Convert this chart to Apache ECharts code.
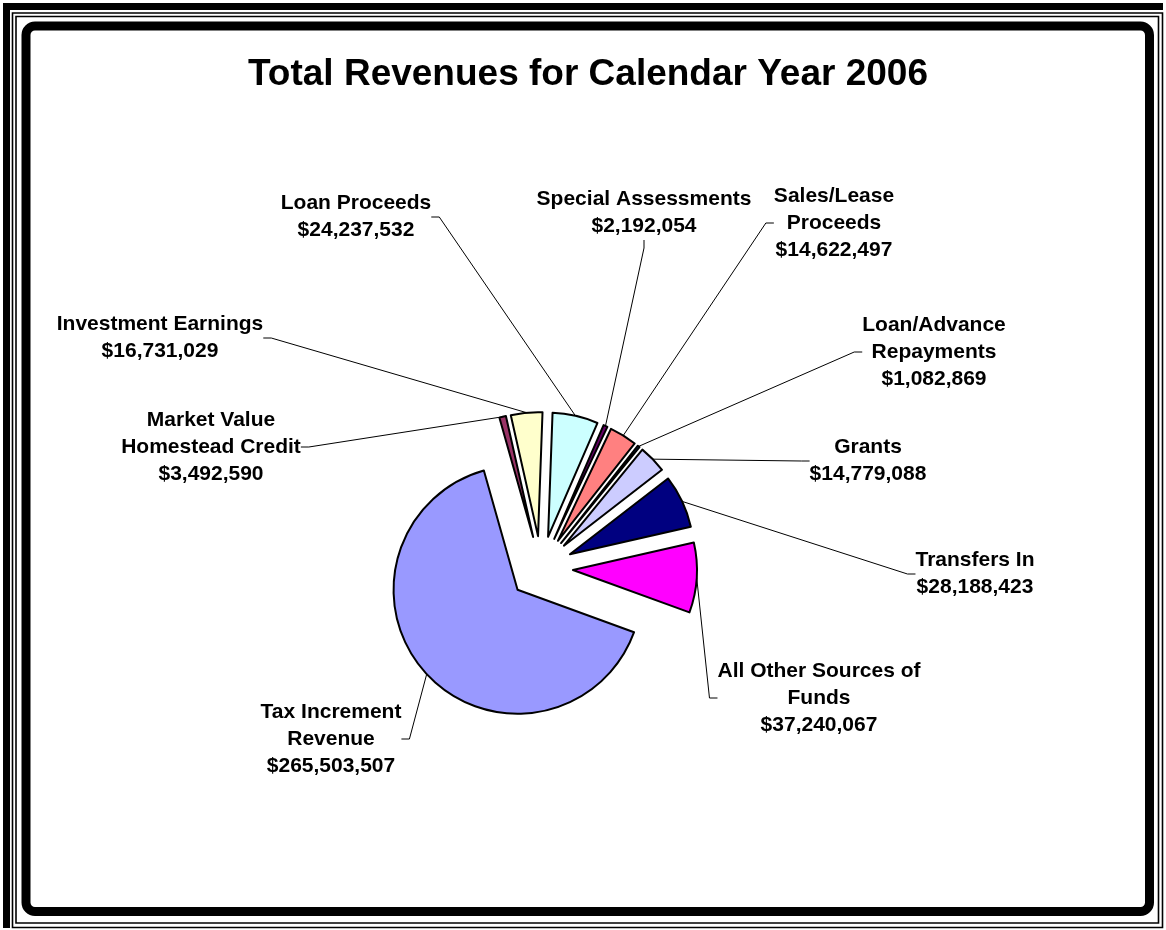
<!DOCTYPE html>
<html>
<head>
<meta charset="utf-8">
<title>Total Revenues for Calendar Year 2006</title>
<script src="https://cdn.jsdelivr.net/npm/echarts@6/dist/echarts.min.js"></script>
<style>
  html, body { margin: 0; padding: 0; background: #fff; }
  #chart { width: 1166px; height: 930px; }
</style>
</head>
<body>
<div id="chart"></div>
<script>
// Revenue sources, in slice order (clockwise)
const sources = [
  'Tax Increment\nRevenue',
  'Market Value\nHomestead Credit',
  'Investment Earnings',
  'Loan Proceeds',
  'Special Assessments',
  'Sales/Lease\nProceeds',
  'Loan/Advance\nRepayments',
  'Grants',
  'Transfers In',
  'All Other Sources of\nFunds'
];

// Dollar amounts for each source
const amounts = [
  265503507, 3492590, 16731029, 24237532, 2192054,
  14622497, 1082869, 14779088, 28188423, 37240067
];

// Slice fills
const sliceColors = [
  '#9999FF', '#993366', '#FFFFCC', '#CCFFFF', '#660066',
  '#FF8080', '#0066CC', '#CCCCFF', '#000080', '#FF00FF'
];

// Centre point of each label block
const labelSpots = [
  [331, 739], [211, 447], [160, 338], [356, 217], [644, 213],
  [834, 223], [934, 352], [868, 461], [975, 574], [819, 698]
];

const FONT = "'Liberation Sans', Arial, Helvetica, sans-serif";
const PIE_CENTER = [541, 568];
const PIE_RADIUS = 124;
const EXPLODE = 32;
const START = -20;

const chart = echarts.init(document.getElementById('chart'), null, { renderer: 'canvas' });

// exploded slices
const sliceData = sources.map((name, i) => ({
  name: name,
  value: amounts[i],
  selected: true,
  itemStyle: { color: sliceColors[i] }
}));

// same values again, only for the callout labels; the ring reaches the
// outer edge of the exploded slices so leader lines start on their arcs
const calloutData = sources.map((name, i) => ({ name: name, value: amounts[i] }));

chart.setOption({
  animation: false,
  backgroundColor: '#ffffff',
  title: {
    text: 'Total Revenues for Calendar Year 2006',
    left: 588,
    top: 56,
    textAlign: 'center',
    padding: 0,
    textStyle: {
      fontFamily: FONT,
      fontSize: 37,
      fontWeight: 'bold',
      color: '#000',
      lineHeight: 37
    }
  },
  graphic: {
    elements: [
      // heavy outer band along top and left
      { type: 'rect', silent: true, shape: { x: 3, y: 3, width: 1160, height: 7 }, style: { fill: '#000' } },
      { type: 'rect', silent: true, shape: { x: 3, y: 3, width: 7, height: 925 }, style: { fill: '#000' } },
      // double hairline frame
      { type: 'rect', silent: true, shape: { x: 12.5, y: 13, width: 1150, height: 914.5 }, style: { fill: null, stroke: '#000', lineWidth: 1.6 } },
      { type: 'rect', silent: true, shape: { x: 16, y: 16.5, width: 1142.5, height: 906.5 }, style: { fill: null, stroke: '#000', lineWidth: 1.6 } },
      // rounded chart-area border
      { type: 'rect', silent: true, shape: { x: 26, y: 26, width: 1123.5, height: 885.5, r: 9 }, style: { fill: null, stroke: '#000', lineWidth: 9 } }
    ]
  },
  series: [
    {
      type: 'pie',
      name: 'slices',
      center: PIE_CENTER,
      radius: PIE_RADIUS,
      startAngle: START,
      clockwise: true,
      selectedMode: 'multiple',
      selectedOffset: EXPLODE,
      silent: true,
      data: sliceData,
      itemStyle: { borderColor: '#000', borderWidth: 2 },
      label: { show: false },
      labelLine: { show: false },
      emphasis: { disabled: true },
      select: { itemStyle: { borderColor: '#000', borderWidth: 2 } }
    },
    {
      type: 'pie',
      name: 'callouts',
      center: PIE_CENTER,
      radius: PIE_RADIUS + EXPLODE,
      startAngle: START,
      clockwise: true,
      silent: true,
      z: 1,
      avoidLabelOverlap: false,
      data: calloutData,
      itemStyle: { color: 'rgba(0,0,0,0)', borderWidth: 0 },
      label: {
        show: true,
        position: 'outside',
        formatter: p => p.name + '\n$' + p.value.toLocaleString('en-US'),
        fontFamily: FONT,
        fontSize: 21,
        fontWeight: 'bold',
        lineHeight: 27,
        color: '#000',
        align: 'center'
      },
      labelLine: {
        show: true,
        length: 20,
        length2: 8,
        minTurnAngle: 20,
        lineStyle: { color: '#000', width: 1 }
      },
      labelLayout: p => ({
        x: labelSpots[p.dataIndex][0],
        y: labelSpots[p.dataIndex][1],
        align: 'center',
        verticalAlign: 'middle'
      }),
      emphasis: { disabled: true }
    }
  ]
});
</script>
</body>
</html>
